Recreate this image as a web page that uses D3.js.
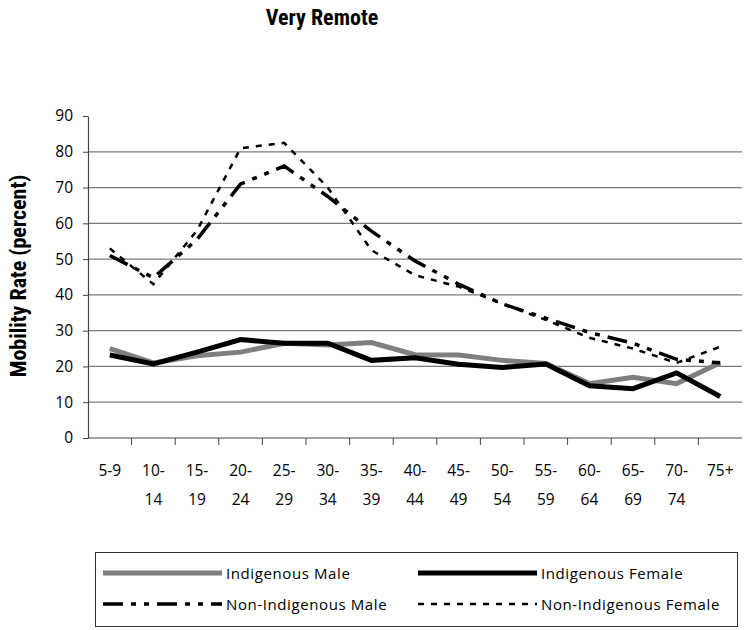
<!DOCTYPE html>
<html>
<head>
<meta charset="utf-8">
<script src="https://cdn.jsdelivr.net/npm/d3@7"></script>
<style>
  body { margin: 0; background: #fff; }
  .tick text { font-family: "Open Sans", "DejaVu Sans", sans-serif; font-size: 15.5px; fill: #000; }
</style>
</head>
<body>
<script>
// Chart data
var ageGroups = ["5-9", "10-14", "15-19", "20-24", "25-29", "30-34", "35-39", "40-44",
  "45-49", "50-54", "55-59", "60-64", "65-69", "70-74", "75+"];
var indigenousMale = [25, 21, 23, 24, 26.5, 26, 26.7, 23.3, 23.2, 21.7, 20.8, 15.2, 17, 15.2, 21];
var indigenousFemale = [23.2, 20.7, 24, 27.5, 26.5, 26.5, 21.7, 22.4, 20.6, 19.7, 20.7, 14.6, 13.8, 18.2, 11.6];
var nonIndigenousMale = [51, 44.8, 55.5, 71, 76, 67.5, 57.8, 49.5, 43, 37.5, 33.5, 29.5, 26.5, 22, 21];
var nonIndigenousFemale = [53, 43, 58, 81, 82.5, 70, 52.5, 45.5, 42.3, 37.5, 33, 28, 25, 21, 25.5];
var yTicks = [0, 10, 20, 30, 40, 50, 60, 70, 80, 90];

// Chart Params
var svgWidth = 744;
var svgHeight = 630;
var margin = { top: 116, right: 2, bottom: 192, left: 88 };
var width = svgWidth - margin.left - margin.right;
var height = svgHeight - margin.top - margin.bottom;

var svg = d3.select("body")
  .append("svg")
  .attr("width", svgWidth)
  .attr("height", svgHeight);

var boldFont = "'Liberation Sans Narrow', 'Roboto Condensed', 'DejaVu Sans Condensed', sans-serif";
var textFont = "'Open Sans', 'DejaVu Sans', sans-serif";

// Title
svg.append("text")
  .attr("x", 322)
  .attr("y", 25)
  .attr("text-anchor", "middle")
  .style("font-family", boldFont)
  .style("font-weight", "bold")
  .style("font-size", "22px")
  .text("Very Remote");

var chartGroup = svg.append("g")
  .attr("transform", `translate(${margin.left}, ${margin.top})`);

var xBand = d3.scaleBand().domain(ageGroups).range([0, width]);
var yScale = d3.scaleLinear().domain([0, 90]).range([height, 0]);

// gridlines
chartGroup.selectAll(".grid")
  .data(yTicks.filter(d => d > 0 && d < 90))
  .enter()
  .append("line")
  .attr("x1", 0)
  .attr("x2", width)
  .attr("y1", d => yScale(d))
  .attr("y2", d => yScale(d))
  .attr("stroke", "#7a7a7a")
  .attr("stroke-width", 1.2);

// y axis
var leftAxis = d3.axisLeft(yScale).tickValues(yTicks).tickSize(5).tickSizeOuter(0).tickPadding(10);
var yAxisG = chartGroup.append("g").call(leftAxis);
yAxisG.select(".domain").attr("stroke", "#444").attr("stroke-width", 1.2);
yAxisG.selectAll(".tick line").attr("stroke", "#444");

// x axis with ticks at category boundaries
var xAxisG = chartGroup.append("g").attr("transform", `translate(0, ${height})`);
xAxisG.append("line")
  .attr("x1", 0).attr("x2", width)
  .attr("stroke", "#444").attr("stroke-width", 1.2);
xAxisG.selectAll(".xtick")
  .data(ageGroups.slice(1))
  .enter()
  .append("line")
  .attr("x1", d => xBand(d))
  .attr("x2", d => xBand(d))
  .attr("y1", 0)
  .attr("y2", 7)
  .attr("stroke", "#444");

var xLabels = xAxisG.selectAll(".xlabel")
  .data(ageGroups)
  .enter()
  .append("text")
  .attr("text-anchor", "middle")
  .style("font-family", textFont)
  .style("font-size", "15.5px")
  .attr("transform", d => `translate(${xBand(d) + xBand.bandwidth() / 2}, 38)`);

xLabels.each(function(d) {
  var parts = d.match(/^(\d+)-(\d+)$/);
  var t = d3.select(this);
  if (parts && d !== "5-9") {
    t.append("tspan").attr("x", 0).attr("y", 0).text(parts[1] + "-");
    t.append("tspan").attr("x", 0).attr("y", 29).text(parts[2]);
  } else {
    t.append("tspan").attr("x", 0).attr("y", 0).text(d);
  }
});

// y axis label
svg.append("text")
  .attr("transform", `translate(26, ${margin.top + height / 2 - 1}) rotate(-90)`)
  .attr("text-anchor", "middle")
  .style("font-family", boldFont)
  .style("font-weight", "bold")
  .style("font-size", "22px")
  .text("Mobility Rate (percent)");

// lines
var series = [
  { name: "Indigenous Male", values: indigenousMale, color: "#7f7f7f", width: 5, dash: null },
  { name: "Indigenous Female", values: indigenousFemale, color: "#000", width: 5, dash: null },
  { name: "Non-Indigenous Male", values: nonIndigenousMale, color: "#000", width: 3.5, dash: "20,8,5,8,5,8" },
  { name: "Non-Indigenous Female", values: nonIndigenousFemale, color: "#000", width: 2.5, dash: "6,7" }
];

var line = d3.line()
  .x((d, i) => xBand(ageGroups[i]) + xBand.bandwidth() / 2)
  .y(d => yScale(d));

series.forEach(function(s) {
  chartGroup.append("path")
    .attr("d", line(s.values))
    .attr("fill", "none")
    .attr("stroke", s.color)
    .attr("stroke-width", s.width)
    .attr("stroke-dasharray", s.dash);
});

// legend
var legend = svg.append("g");
legend.append("rect")
  .attr("x", 95.5).attr("y", 552.5)
  .attr("width", 642).attr("height", 74)
  .attr("fill", "none")
  .attr("stroke", "#333")
  .attr("stroke-width", 1);

var legendPos = [
  { x: 103, y: 573 }, { x: 418, y: 573 },
  { x: 103, y: 604 }, { x: 418, y: 604 }
];

series.forEach(function(s, i) {
  var p = legendPos[i];
  legend.append("line")
    .attr("x1", p.x).attr("x2", p.x + 119)
    .attr("y1", p.y).attr("y2", p.y)
    .attr("stroke", s.color)
    .attr("stroke-width", s.width)
    .attr("stroke-dasharray", s.dash);
  legend.append("text")
    .attr("x", p.x + 123)
    .attr("y", p.y + 6)
    .style("font-family", textFont)
    .style("font-size", "15px")
    .style("letter-spacing", "0.6px")
    .text(s.name);
});
</script>
</body>
</html>
